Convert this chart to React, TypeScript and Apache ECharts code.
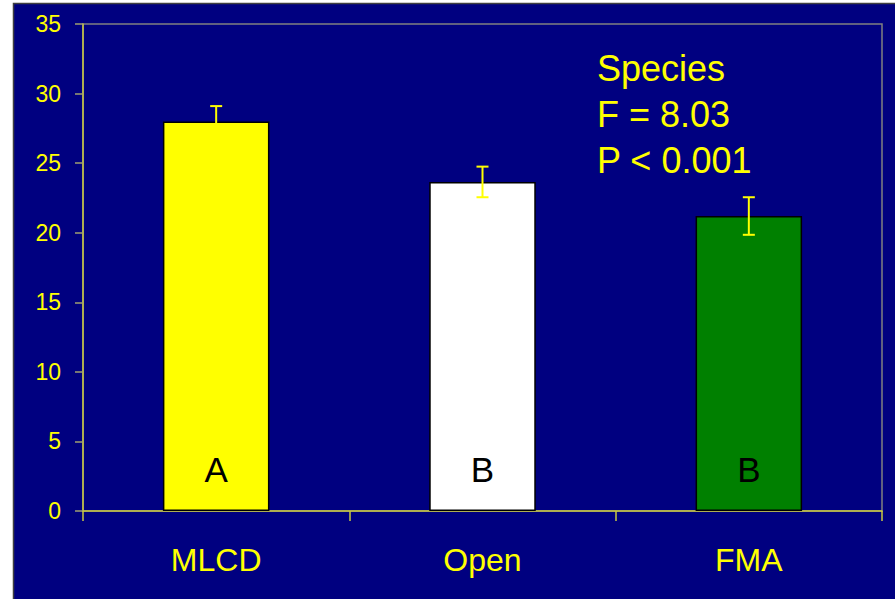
import React, { useEffect, useRef } from "react";
import * as echarts from "echarts";

const categories = ["MLCD", "Open", "FMA"];
const means = [28.0, 23.65, 21.2];
const errors = [1.1, 1.1, 1.35];
const barColors = ["#ffff00", "#ffffff", "#008000"];
const letters = ["A", "B", "B"];
const annotation = ["Species", "F = 8.03", "P < 0.001"];

export default function App() {
  const ref = useRef<HTMLDivElement>(null);
  useEffect(() => {
    if (!ref.current) return;
    const chart = echarts.init(ref.current, undefined, { renderer: "svg" });
    const font = "Liberation Sans, Arial, sans-serif";
    chart.setOption({
      animation: false,
      backgroundColor: "#ffffff",
      graphic: [
        {
          type: "rect",
          z: -10,
          silent: true,
          shape: { x: 13.5, y: 3.5, width: 900, height: 600 },
          style: { fill: "#000080", stroke: "#404040", lineWidth: 1.5 },
        },
        {
          type: "text",
          x: 597,
          y: 45,
          z: 10,
          style: {
            text: annotation.join("\n"),
            fill: "#ffff00",
            fontSize: 36,
            lineHeight: 46,
            fontFamily: font,
            verticalAlign: "top",
            align: "left",
          },
        },
      ],
      grid: {
        left: 83,
        top: 24,
        right: 13,
        bottom: 88,
        show: true,
        backgroundColor: "transparent",
        borderColor: "#808080",
        borderWidth: 1.5,
      },
      xAxis: {
        type: "category",
        data: categories,
        boundaryGap: true,
        axisLine: { lineStyle: { color: "#c8c840", width: 1.5 } },
        axisTick: { show: true, length: 10, lineStyle: { color: "#c8c840", width: 1.5 } },
        axisLabel: { color: "#ffff00", fontSize: 32, fontFamily: font, margin: 33 },
        splitLine: { show: false },
      },
      yAxis: {
        type: "value",
        min: 0,
        max: 35,
        interval: 5,
        axisLine: { show: true, lineStyle: { color: "#c8c840", width: 1.5 } },
        axisTick: { show: true, length: 8, lineStyle: { color: "#a0a070", width: 1.5 } },
        axisLabel: { color: "#ffff00", fontSize: 23, fontFamily: font, margin: 22 },
        splitLine: { show: false },
      },
      series: [
        {
          type: "bar",
          barWidth: "40%",
          z: 2,
          data: means.map((v, i) => ({
            value: v,
            itemStyle: { color: barColors[i], borderColor: "#000000", borderWidth: 1.5 },
            label: {
              show: true,
              position: "insideBottom",
              distance: 24,
              formatter: letters[i],
              color: "#000000",
              fontSize: 35,
              fontFamily: font,
            },
          })),
        },
        {
          type: "custom",
          z: 5,
          data: means.map((v, i) => [i, v, errors[i]]),
          renderItem: (params: any, api: any) => {
            const x = api.value(0);
            const m = api.value(1);
            const e = api.value(2);
            const top = api.coord([x, m + e]);
            const bot = api.coord([x, m - e]);
            const hw = 6;
            const style = { stroke: "#ffff00", lineWidth: 2 };
            return {
              type: "group",
              children: [
                { type: "line", shape: { x1: top[0], y1: top[1], x2: bot[0], y2: bot[1] }, style },
                { type: "line", shape: { x1: top[0] - hw, y1: top[1], x2: top[0] + hw, y2: top[1] }, style },
                { type: "line", shape: { x1: bot[0] - hw, y1: bot[1], x2: bot[0] + hw, y2: bot[1] }, style },
              ],
            };
          },
        },
      ],
    });
    return () => chart.dispose();
  }, []);
  return (
    <div
      ref={ref}
      style={{ position: "absolute", left: 0, top: 0, width: 895, height: 599 }}
    />
  );
}
